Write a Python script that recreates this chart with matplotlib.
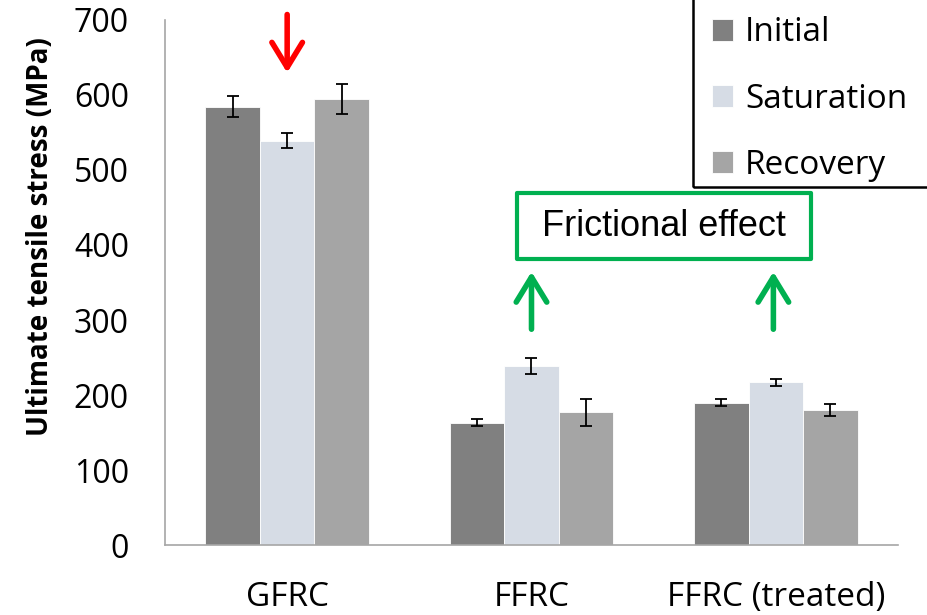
import numpy as np
import matplotlib.pyplot as plt
from matplotlib.patches import Rectangle

# Data
groups = ['GFRC', 'FFRC', 'FFRC (treated)']
series = ['Initial', 'Saturation', 'Recovery']
initial = [584, 163, 190]
saturation = [539, 239, 217]
recovery = [595, 177, 180]
initial_err = [14, 4.5, 5]
saturation_err = [10, 11, 5]
recovery_err = [20, 18, 8.5]

colors = ['#808080', '#D6DCE5', '#A5A5A5']
values = [initial, saturation, recovery]
errors = [initial_err, saturation_err, recovery_err]

font = 'Open Sans'

fig = plt.figure(figsize=(9.27, 6.15), dpi=100)
ax = fig.add_axes([0.178, 0.1138, 0.7907, 0.8537])

x = np.arange(len(groups))
w = 0.223
for i, (vals, errs, c, name) in enumerate(zip(values, errors, colors, series)):
    ax.bar(x + (i - 1) * w, vals, w, color=c, edgecolor='white', linewidth=0.6,
           label=name, zorder=2)
    ax.errorbar(x + (i - 1) * w, vals, yerr=errs, fmt='none', ecolor='black',
                elinewidth=1.3, capsize=4.5, capthick=1.3, zorder=3)

ax.set_xlim(-0.5, 2.5)
ax.set_ylim(0, 700)
ax.set_yticks(np.arange(0, 701, 100))
ax.set_xticks(x)
ax.set_xticklabels(groups, fontsize=24, family=font)
for lab in ax.get_yticklabels():
    lab.set_fontsize(23)
    lab.set_family(font)
ax.tick_params(length=0)
ax.tick_params(axis='x', pad=26)
ax.tick_params(axis='y', pad=26)
for s in ['top', 'right']:
    ax.spines[s].set_visible(False)
for s in ['left', 'bottom']:
    ax.spines[s].set_color('#A6A6A6')
    ax.spines[s].set_linewidth(1.2)

ax.set_ylabel('Ultimate tensile stress (MPa)', fontsize=20, fontweight='bold',
              family=font)
ax.yaxis.set_label_coords(-0.150, 0.587)

# Arrows
ax.annotate('', xy=(0, 626), xytext=(0, 711), annotation_clip=False,
            arrowprops=dict(arrowstyle='->, head_length=0.9, head_width=0.55',
                            color='#FF0000', lw=4, mutation_scale=20))
for gx in [1.0, 1.99]:
    ax.annotate('', xy=(gx, 368), xytext=(gx, 284), annotation_clip=False,
                arrowprops=dict(arrowstyle='->, head_length=0.9, head_width=0.55',
                                color='#00B050', lw=4, mutation_scale=20))

# Frictional effect box
ax.add_patch(Rectangle((0.94, 381), 1.206, 88, fill=False, edgecolor='#00B050',
                       linewidth=3, joinstyle='round', clip_on=False, zorder=4))
ax.text(1.541, 425, 'Frictional effect', fontsize=26, family='Liberation Sans',
        ha='center', va='center', zorder=5)

# Legend; its frame runs off the top and right edges, as in the original
leg = fig.legend(loc='lower left', bbox_to_anchor=(712 / 927, 1 - 182 / 615),
                 prop={'family': font, 'size': 24}, frameon=False,
                 handlelength=0.63, handleheight=0.63,
                 labelspacing=1.0, handletextpad=0.36, borderpad=0,
                 borderaxespad=0)
fig.add_artist(Rectangle((693 / 927, 1 - 187 / 615), 0.3, 0.4, fill=False,
                         edgecolor='black', linewidth=1.8,
                         transform=fig.transFigure, clip_on=False))

fig.savefig('out.png', dpi=100)
